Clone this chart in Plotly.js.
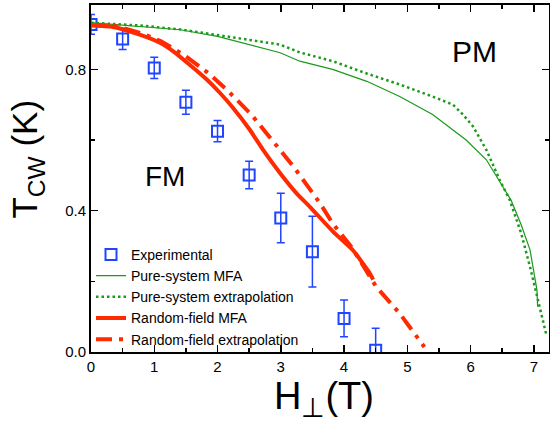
<!DOCTYPE html>
<html>
<head>
<meta charset="utf-8">
<script src="https://cdn.plot.ly/plotly-3.0.1.min.js"></script>
<style>html,body{margin:0;padding:0;background:#fff;}#plot{width:550px;height:425px;}</style>
</head>
<body>
<div id="plot"></div>
<script>
// Experimental data
const expH = [0, 0.5, 1, 1.5, 2, 2.5, 3, 3.5, 4, 4.5];
const expT = [0.927, 0.886, 0.804, 0.707, 0.625, 0.501, 0.379, 0.284, 0.095, 0.005];
const expErr = [0.028, 0.03, 0.03, 0.034, 0.03, 0.039, 0.07, 0.1, 0.052, 0.062];

// Pure-system MFA
const pureH = [0, 0.77, 1.41, 2.0, 2.51, 2.99, 3.3, 3.82, 4.36, 4.88, 5.4, 5.93, 6.25, 6.46, 6.64, 6.8, 6.94, 7.05, 7.06];
const pureT = [0.932, 0.92, 0.912, 0.893, 0.870, 0.847, 0.823, 0.80, 0.766, 0.723, 0.672, 0.60, 0.544, 0.482, 0.43, 0.36, 0.289, 0.175, 0.128];

// Pure-system extrapolation
const pureExH = [0, 0.77, 1.41, 2.51, 2.99, 3.3, 3.82, 4.36, 4.88, 5.4, 5.72, 5.88, 6.04, 6.25, 6.46, 6.62, 6.8, 6.94, 7.07, 7.2];
const pureExT = [0.932, 0.924, 0.913, 0.884, 0.870, 0.848, 0.823, 0.788, 0.757, 0.723, 0.70, 0.672, 0.638, 0.572, 0.487, 0.43, 0.336, 0.241, 0.147, 0.047];

// Random-field MFA
const rfH = [0, 0.35, 0.77, 1.09, 1.30, 1.56, 1.83, 2.04, 2.25, 2.51, 2.72, 2.99, 3.25, 3.46, 3.83, 4.14, 4.32, 4.43, 4.46, 4.40, 4.30];
const rfT = [0.925, 0.92, 0.898, 0.875, 0.851, 0.813, 0.771, 0.733, 0.690, 0.629, 0.572, 0.506, 0.449, 0.411, 0.34, 0.288, 0.245, 0.215, 0.205, 0.225, 0.250];

// Random-field extrapolation
const rfExH = [0, 0.4, 0.8, 1.1, 1.46, 1.85, 2.17, 2.35, 2.54, 2.77, 2.99, 3.2, 3.41, 3.62, 3.82, 4.13, 4.51, 4.88, 5.27];
const rfExT = [0.925, 0.922, 0.902, 0.88, 0.842, 0.79, 0.738, 0.705, 0.671, 0.620, 0.572, 0.525, 0.473, 0.421, 0.364, 0.294, 0.184, 0.109, 0.014];

const xTicks = [0, 1, 2, 3, 4, 5, 6, 7];
const yTicks = [0.0, 0.4, 0.8];
const yTickText = ['0.0', '0.4', '0.8'];

const blue = '#1f45ff';
const red = '#ff2a00';
const green = '#1a9a1a';
const font = 'Arial, "Liberation Sans", sans-serif';

const traces = [
  {x: expH, y: expT, type: 'scatter', mode: 'markers', name: 'Experimental',
   marker: {symbol: 'square-open', size: 11, color: blue, line: {width: 2, color: blue}},
   error_y: {type: 'data', array: expErr, visible: true, color: blue, thickness: 1.5, width: 4}},
  {x: pureH, y: pureT, type: 'scatter', mode: 'lines', name: 'Pure-system MFA',
   line: {color: green, width: 1.2}},
  {x: pureExH, y: pureExT, type: 'scatter', mode: 'lines', name: 'Pure-system extrapolation',
   line: {color: green, width: 2.5, dash: '2.5px,3px'}},
  {x: rfH, y: rfT, type: 'scatter', mode: 'lines', name: 'Random-field MFA',
   line: {color: red, width: 4, shape: 'spline', smoothing: 0.6}},
  {x: rfExH, y: rfExT, type: 'scatter', mode: 'lines', name: 'Random-field extrapolation',
   line: {color: red, width: 4, dash: '16px,7px,4px,7px'}}
];

const layout = {
  width: 550, height: 425,
  margin: {l: 91, r: 1, t: 5, b: 73},
  paper_bgcolor: '#fff', plot_bgcolor: '#fff',
  showlegend: true,
  font: {family: font, color: '#000'},
  xaxis: {
    range: [0, 7.24], tickvals: xTicks, ticks: 'inside', ticklen: 7, tickwidth: 1.5,
    showline: true, linecolor: '#000', linewidth: 2, mirror: 'allticks', showgrid: false, zeroline: false,
    tickfont: {size: 15, family: font}, tickcolor: '#000',
    minor: {dtick: 0.5, ticks: 'inside', ticklen: 4, tickwidth: 1.5, tickcolor: '#000', showgrid: false}
  },
  yaxis: {
    range: [0, 0.982], tickvals: yTicks, ticktext: yTickText, ticks: 'inside', ticklen: 7, tickwidth: 1.5,
    showline: true, linecolor: '#000', linewidth: 2, mirror: 'allticks', showgrid: false, zeroline: false,
    tickfont: {size: 15, family: font}, tickcolor: '#000',
    minor: {dtick: 0.2, ticks: 'inside', ticklen: 4, tickwidth: 1.5, tickcolor: '#000', showgrid: false}
  },
  legend: {x: 0, y: -0.008, xanchor: 'left', yanchor: 'bottom', bgcolor: 'rgba(0,0,0,0)',
           font: {size: 14, family: font}, tracegroupgap: 0, itemwidth: 30},
  annotations: [
    {xref: 'paper', yref: 'paper', x: -0.14, y: 0.38, text: 'T<sub>CW</sub> (K)', textangle: -90,
     showarrow: false, font: {size: 35, family: font}, xanchor: 'center', yanchor: 'bottom'},
    {xref: 'paper', yref: 'paper', x: 0.509, y: -0.135, text: 'H<sub>⊥</sub>(T)',
     showarrow: false, font: {size: 38, family: font}, xanchor: 'center', yanchor: 'middle'},
    {xref: 'x', yref: 'y', x: 1.17, y: 0.496, text: 'FM', showarrow: false,
     font: {size: 28, family: font}},
    {xref: 'x', yref: 'y', x: 6.07, y: 0.851, text: 'PM', showarrow: false,
     font: {size: 30, family: font}}
  ]
};

Plotly.newPlot('plot', traces, layout, {staticPlot: true, displayModeBar: false});
</script>
</body>
</html>
